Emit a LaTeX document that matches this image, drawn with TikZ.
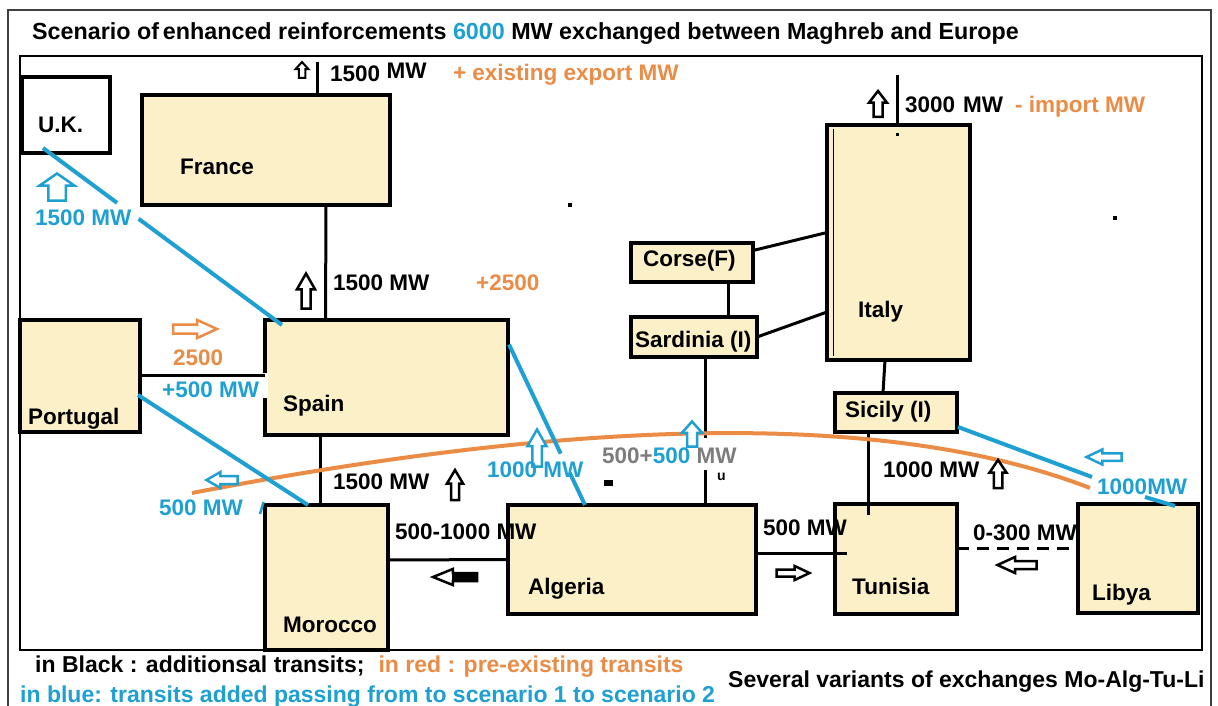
\documentclass[tikz,border=0pt]{standalone}
\usepackage{fontspec}
\setmainfont{Liberation Sans}
\usetikzlibrary{calc}
\definecolor{cream}{RGB}{251,240,200}
\definecolor{myblue}{RGB}{30,160,210}
\definecolor{myorange}{RGB}{235,140,70}
\definecolor{mygray}{RGB}{125,125,125}
% block arrow: x, y, angle, length, width, style
\newcommand{\blockarr}[6]{%
 \draw[#6, fill=white, line join=miter, shift={(#1,#2)}, rotate=#3]
  ({-#4/2},{-#5/4}) -- ({0.05*#4},{-#5/4}) -- ({0.05*#4},{-#5/2}) -- ({#4/2},0) --
  ({0.05*#4},{#5/2}) -- ({0.05*#4},{#5/4}) -- ({-#4/2},{#5/4}) -- cycle;}
\begin{document}
\begin{tikzpicture}[x=1pt,y=-1pt,
  cbox/.style={draw, line width=4, fill=cream, inner sep=0, outer sep=0},
  wbox/.style={cbox, fill=white},
  conn/.style={line width=3, black},
  bline/.style={line width=4, myblue},
  lbl/.style={anchor=base west, inner sep=0, font=\bfseries\fontsize{22.5}{26}\selectfont},
  ttl/.style={anchor=base west, inner sep=0, font=\bfseries\fontsize{23.3}{27}\selectfont},
  lgd/.style={anchor=base west, inner sep=0, font=\bfseries\fontsize{23}{27}\selectfont},
  blk/.style={black, line width=2.5},
  blu/.style={myblue, line width=2.5},
  org/.style={myorange, line width=2.5},
 ]
\useasboundingbox (0,0) rectangle (1218,706);
\fill[white] (0,0) rectangle (1218,706);
% frames
\draw[line width=1.5, black!75] (8,706) -- (8,10) -- (1211,10) -- (1211,706);
\draw[line width=2.5] (20,56) rectangle (1202,650);
% boxes
\node[wbox, minimum width=88, minimum height=76] (uk) at (66,115) {};
\node[cbox, minimum width=248, minimum height=110] (fr) at (266,150) {};
\node[cbox, minimum width=243, minimum height=115] (sp) at (386.5,377.5) {};
\node[cbox, minimum width=120, minimum height=112] (pt) at (80,376) {};
\node[cbox, minimum width=123, minimum height=145] (mo) at (326.5,577.5) {};
\node[cbox, minimum width=248, minimum height=109] (al) at (632,559.5) {};
\node[cbox, minimum width=122, minimum height=110] (tu) at (896,559) {};
\node[cbox, minimum width=120, minimum height=109] (ly) at (1138,558.5) {};
\node[cbox, minimum width=122, minimum height=39] (si) at (896,412.5) {};
\node[cbox, minimum width=143, minimum height=235] (it) at (898.5,242.5) {};
\node[cbox, minimum width=122, minimum height=39] (co) at (692,262.5) {};
\node[cbox, minimum width=126, minimum height=40] (sa) at (694,337) {};
\fill[white] (262.5,373) rectangle (267.5,398);
\draw[line width=1] (833,129) -- (833,356);
% free coordinates
\coordinate (frtop) at (317,62);
\coordinate (ittop) at (897,75);
\coordinate (sagap1) at (705,438);
\coordinate (sagap2) at (705,470);
\coordinate (oa1) at (192,493);
\coordinate (oa2) at (1090,488);
\coordinate (silyA) at (1092,477);
\coordinate (silyB) at (1145,497);
% black connectors
\draw[conn] (frtop |- fr.north) -- (frtop);
\draw[conn] ($(fr.south)+(60,0)$) -- ($(sp.north)+(-61,0)$);
\draw[conn] ($(pt.east)+(0,-1)$) -- ($(sp.west)+(0,-2.5)$);
\draw[conn] ($(sp.south)+(-66.5,0)$) -- ($(mo.north)+(-6.5,0)$);
\draw[conn] ($(mo.east)+(0,-17.5)$) -- (al.west);
\draw[conn] ($(al.east)+(0,-6.5)$) -- ($(tu.west)+(12,-6)$);
\draw[conn, dash pattern=on 12 off 8] ($(tu.east)+(0,-11)$) -- ($(ly.west)+(0,-10.5)$);
\draw[conn] ($(si.south)+(-28,0)$) -- ($(tu.north)+(-28,11)$);
\draw[conn] ($(it.south)+(-13.5,0)$) -- ($(si.north)+(-13,0)$);
\draw[conn] ($(it.north)+(-1.5,0)$) -- (ittop);
\draw[conn] ($(co.south)+(36,0)$) -- ($(sa.north)+(34,0)$);
\draw[conn] ($(co.east)+(0,-12)$) -- ($(it.west)+(0,-10)$);
\draw[conn] (sa.east) -- ($(it.west)+(0,69.5)$);
\draw[conn] ($(sa.south)+(11,0)$) -- (sagap1);
\draw[conn] (sagap2) -- ($(al.north)+(73,0)$);
% orange arc
\draw[myorange, line width=4] (oa1) .. controls (597,415) and (896,413) .. (oa2);
% blue connectors
\coordinate (ukA) at ($(uk.south west)+(21,-5)$);
\coordinate (spA) at ($(sp.north west)+(17,5)$);
\draw[bline] (ukA) -- ($(ukA)!0.31!(spA)$);
\draw[bline] ($(ukA)!0.40!(spA)$) -- (spA);
\draw[bline] ($(pt.east)+(-2,19)$) -- ($(mo.north west)+(43,0)$);
\coordinate (spB) at ($(sp.east)+(1,-33)$);
\coordinate (alB) at ($(al.north west)+(77,0)$);
\draw[bline] (spB) -- ($(spB)!0.68!(alB)$);
\draw[bline] ($(spB)!0.80!(alB)$) -- (alB);
\draw[bline] ($(si.east)+(1,14.5)$) -- (silyA);
\draw[bline] (silyB) -- ($(ly.north)+(37,2)$);
\draw[myblue, line width=2.5] (260,514) -- (263.5,502);
% stray marks
\fill (568,203) rectangle (572,207);
\fill (1113,216) rectangle (1117,220);
\fill (895.5,133.5) rectangle (898.5,136.5);
\fill (604,480) rectangle (613,486);
% arrows
\blockarr{302}{70}{90}{16}{13}{blk, line width=2}
\blockarr{306}{291}{90}{35}{18}{blk}
\blockarr{455}{485}{90}{30}{16}{blk}
\blockarr{878}{104}{90}{26}{18}{blk}
\blockarr{998}{474}{90}{28}{17}{blk}
\blockarr{1017}{565}{180}{39}{16}{blk}
\blockarr{793}{573}{0}{33}{14}{blk}
\blockarr{455}{577}{180}{44}{16}{blk}
\fill (452,573) rectangle (477,581);
\blockarr{57}{187}{90}{27}{35}{blu}
\blockarr{537}{448}{90}{37}{19}{blu}
\blockarr{692}{434}{90}{25}{20}{blu}
\blockarr{222}{480}{180}{31}{16}{blu}
\blockarr{1104}{457}{180}{35}{15}{blu}
\blockarr{195}{329}{0}{44}{18}{org}
% box labels
\node[lbl] (tuk) at (38,132) {U.K.};
\node[lbl] (tfr) at (180,175) {France};
\node[lbl] (tsp) at (283,411) {Spain};
\node[lbl] (tpt) at (28,424) {Portugal};
\node[lbl] (tmo) at (283,632) {Morocco};
\node[lbl] (tal) at (528,594) {Algeria};
\node[lbl] (ttu) at (852,594) {Tunisia};
\node[lbl] (tly) at (1092,600) {Libya};
\node[lbl] (tco) at (643,266) {Corse(F)};
\node[lbl] (tsa) at (635,347) {Sardinia (I)};
\node[lbl] (tit) at (858,317) {Italy};
\node[lbl] (tsi) at (845,417) {Sicily (I)};
% flow labels
\node[ttl] (title) at (32,40) {Scenario of\,enhanced reinforcements {\color{myblue}6000} MW exchanged between Maghreb and Europe};
\node[lbl] (l1) at (330,82) {1500 \raisebox{3pt}{MW}};
\node[lbl, text=myorange] (l2) at (453,81) {+\hspace{6pt}existing export MW};
\node[lbl] (l3) at (905,113) {3000\hspace{8pt}MW};
\node[lbl, text=myorange] (l4) at (1015,113) {- import MW};
\node[lbl] (l5) at (333,290) {1500 MW};
\node[lbl, text=myorange] (l6) at (476,290) {+2500};
\node[lbl, text=myblue] (l7) at (35,225) {1500 MW};
\node[lbl, text=myorange] (l8) at (173,365) {2500};
\node[lbl, text=myblue] (l9) at (162,397) {+500 MW};
\node[lbl, text=myblue] (l10) at (159,515) {500 MW};
\node[lbl] (l11) at (333,489) {1500 MW};
\node[lbl, text=myblue] (l12) at (487,477) {1000 MW};
\node[lbl, text=mygray] (l13) at (602,463) {500+{\color{myblue}500} MW};
\node[lbl, font=\bfseries\fontsize{14}{16}\selectfont] (l14) at (717,480) {u};
\node[lbl] (l15) at (395,539) {500-1000 MW};
\node[lbl] (l16) at (763,535) {500 MW};
\node[lbl] (l17) at (973,540) {0-300 MW};
\node[lbl] (l18) at (883,477) {1000 MW};
\node[lbl, text=myblue] (l19) at (1097,494) {1000MW};
% legend
\node[lgd] (lg1) at (35,672) {in Black : additionsal transits;\hspace{14pt}{\color{myorange}in red : pre-existing transits}};
\node[lgd, text=myblue] (lg2) at (20,702) {in blue: transits added passing from to scenario 1 to scenario 2};
\node[lgd] (lg3) at (728,687) {Several variants of exchanges Mo-Alg-Tu-Li};
\end{tikzpicture}
\end{document}
